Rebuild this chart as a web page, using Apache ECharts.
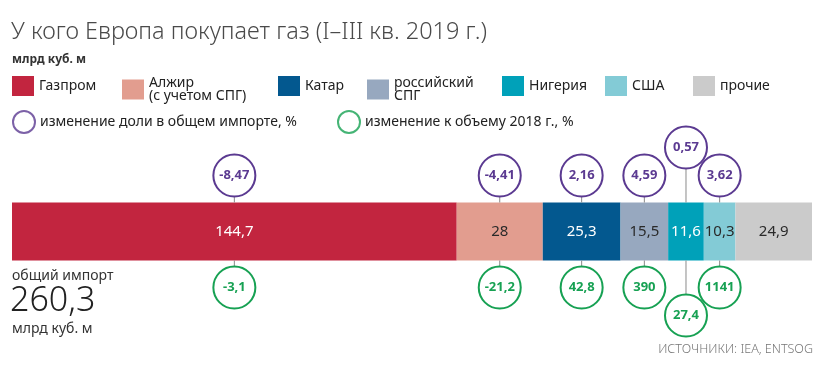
<!DOCTYPE html>
<html>
<head>
<meta charset="utf-8">
<script src="https://cdn.jsdelivr.net/npm/echarts@6/dist/echarts.min.js"></script>
<style>
    html, body {margin: 0; padding: 0; background: #fff;}
    #gas_import {width: 832px; height: 376px;}
</style>
</head>
<body>
<div id="gas_import"></div>
<script>
//***************данные*************************
var suppliers = ['Газпром', 'Алжир\n(с учетом СПГ)', 'Катар', 'российский\nСПГ', 'Нигерия', 'США', 'прочие'];
var volumes = [144.7, 28, 25.3, 15.5, 11.6, 10.3, 24.9];
var share_change = [-8.47, -4.41, 2.16, 4.59, 0.57, 3.62, null];
var volume_change = [-3.1, -21.2, 42.8, 390, 27.4, 1141, null];
// 1 - кружки вынесены дальше от полосы
var marker_level = [0, 0, 0, 0, 1, 0, 0];

var bar_colors = ['#c2253f', '#e29d8f', '#03588f', '#97a8bf', '#00a1b9', '#83cbd6', '#cbcbcb'];
var label_colors = ['#fff', '#2a2a2a', '#fff', '#2a2a2a', '#fff', '#2a2a2a', '#2a2a2a'];
var share_name = 'изменение доли в общем импорте, %';
var volume_name = 'изменение к объему 2018 г., %';
var purple = '#5b3a91';
var green = '#17a153';
var font_family = '"Noto Sans", "DejaVu Sans", sans-serif';

// отступы слева для пунктов легенды
var legend_left = [12, 122, 278, 367, 502, 605, 693];
var marker_legend_left = [12, 337];

function fmt(v) {
    return String(v).replace('.', ',');
}

//***************получить элемент*************************
var gas_import_dom = document.getElementById("gas_import");
var gas_import_chart = echarts.init(gas_import_dom);

var total = 0;
for (var i = 0; i < volumes.length; i++) {
    total += volumes[i];
}
total = Math.round(total * 10) / 10;

// полосы
var bar_series = [];
for (var i = 0; i < suppliers.length; i++) {
    bar_series.push({
        name: suppliers[i],
        type: 'bar',
        stack: 'import',
        barWidth: 58,
        itemStyle: {color: bar_colors[i]},
        label: {
            show: true,
            position: 'inside',
            color: label_colors[i],
            fontSize: 15,
            fontFamily: font_family,
            formatter: function (p) {
                return fmt(p.value);
            }
        },
        emphasis: {disabled: true},
        data: [volumes[i]]
    });
}

// кружки с изменениями
var marker_data = [];
var acc = 0;
for (var i = 0; i < volumes.length; i++) {
    if (share_change[i] !== null) {
        marker_data.push([acc + volumes[i] / 2, 0, share_change[i], volume_change[i], marker_level[i]]);
    }
    acc += volumes[i];
}

function render_markers(params, api) {
    var p = api.coord([api.value(0), 0]);
    var x = p[0], y = p[1];
    var r = 21;
    var half = 29;
    var off = api.value(4) === 1 ? 84 : 56;
    var txt_font = 'bold 13px ' + font_family;
    return {
        type: 'group',
        children: [
            {type: 'line', shape: {x1: x, y1: y - off + r, x2: x, y2: y - half}, style: {stroke: '#8a8a8a', lineWidth: 1}},
            {type: 'line', shape: {x1: x, y1: y + half, x2: x, y2: y + off - r}, style: {stroke: '#8a8a8a', lineWidth: 1}},
            {type: 'circle', shape: {cx: x, cy: y - off, r: r}, style: {fill: '#fff', stroke: purple, lineWidth: 2}},
            {type: 'circle', shape: {cx: x, cy: y + off, r: r}, style: {fill: '#fff', stroke: green, lineWidth: 2}},
            {type: 'text', style: {text: fmt(api.value(2)), x: x, y: y - off, align: 'center', verticalAlign: 'middle', fill: purple, font: txt_font}},
            {type: 'text', style: {text: fmt(api.value(3)), x: x, y: y + off, align: 'center', verticalAlign: 'middle', fill: green, font: txt_font}}
        ]
    };
}

var all_series = bar_series.concat([
    {
        type: 'custom',
        renderItem: render_markers,
        encode: {x: 0, y: 1},
        silent: true,
        z: 5,
        data: marker_data
    },
    {name: share_name, type: 'scatter', data: [], itemStyle: {color: '#fff', borderColor: purple, borderWidth: 2}},
    {name: volume_name, type: 'scatter', data: [], itemStyle: {color: '#fff', borderColor: green, borderWidth: 2}}
]);

// легенда: по одному пункту, чтобы выставить отступы как в оригинале
var legends = [];
for (var i = 0; i < suppliers.length; i++) {
    legends.push({
        data: [suppliers[i]],
        left: legend_left[i], top: 76, padding: 0,
        itemWidth: 22, itemHeight: 20,
        icon: 'rect',
        selectedMode: false,
        textStyle: {fontSize: 14, color: '#222', lineHeight: 13}
    });
}
var marker_names = [share_name, volume_name];
for (var i = 0; i < marker_names.length; i++) {
    legends.push({
        data: [marker_names[i]],
        left: marker_legend_left[i], top: 110, padding: 0,
        itemWidth: 22, itemHeight: 22,
        icon: 'circle',
        selectedMode: false,
        textStyle: {fontSize: 14, color: '#222'}
    });
}

//*************настройки графика************************************
var gas_import_option = {
    animation: false,
    textStyle: {fontFamily: font_family},
    title: [
        {
            text: 'У кого Европа покупает газ (I–III кв. 2019 г.)',
            left: 11, top: 20, padding: 0,
            textStyle: {fontSize: 23.5, fontWeight: 300, color: '#4a4a4a', fontFamily: font_family}
        },
        {
            text: 'млрд куб. м',
            left: 12, top: 54, padding: 0,
            textStyle: {fontSize: 12, fontWeight: 'bold', color: '#333', fontFamily: font_family}
        }
    ],
    legend: legends,
    grid: {left: 12, right: 20, top: 131, height: 201},
    xAxis: {type: 'value', min: 0, max: total, show: false},
    yAxis: {type: 'category', data: ['импорт'], show: false},
    graphic: [
        {type: 'text', left: 12, top: 269, style: {text: 'общий импорт', fontSize: 14, fill: '#333', fontFamily: font_family}},
        {type: 'text', left: 10, top: 284, style: {text: fmt(total), fontSize: 34, fontWeight: 300, fill: '#222', fontFamily: font_family}},
        {type: 'text', left: 12, top: 322, style: {text: 'млрд куб. м', fontSize: 14, fill: '#333', fontFamily: font_family}},
        {type: 'text', right: 19, top: 343, style: {text: 'ИСТОЧНИКИ: IEA, ENTSOG', fontSize: 12.5, fontWeight: 300, fill: '#777', fontFamily: font_family}}
    ],
    series: all_series
};

gas_import_chart.setOption(gas_import_option);
</script>
</body>
</html>
